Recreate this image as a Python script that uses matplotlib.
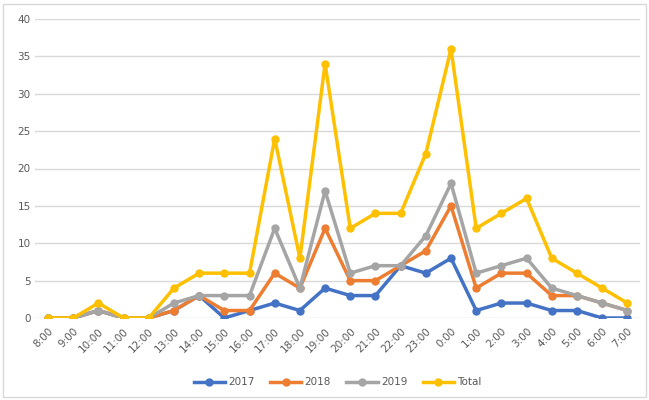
import numpy as np
import matplotlib.pyplot as plt
from matplotlib.patches import Rectangle

# hourly counts, 8:00 through 7:00 the next morning
hours = ['8:00', '9:00', '10:00', '11:00', '12:00', '13:00', '14:00', '15:00',
         '16:00', '17:00', '18:00', '19:00', '20:00', '21:00', '22:00', '23:00',
         '0:00', '1:00', '2:00', '3:00', '4:00', '5:00', '6:00', '7:00']
y2017 = [0, 0, 1, 0, 0, 1, 3, 0, 1, 2, 1, 4, 3, 3, 7, 6, 8, 1, 2, 2, 1, 1, 0, 0]
y2018 = [0, 0, 1, 0, 0, 1, 3, 1, 1, 6, 4, 12, 5, 5, 7, 9, 15, 4, 6, 6, 3, 3, 2, 1]
y2019 = [0, 0, 1, 0, 0, 2, 3, 3, 3, 12, 4, 17, 6, 7, 7, 11, 18, 6, 7, 8, 4, 3, 2, 1]
total = [0, 0, 2, 0, 0, 4, 6, 6, 6, 24, 8, 34, 12, 14, 14, 22, 36, 12, 14, 16, 8, 6, 4, 2]

series = [('2017', y2017, '#4472C4'),
          ('2018', y2018, '#ED7D31'),
          ('2019', y2019, '#A5A5A5'),
          ('Total', total, '#FFC000')]

txt = '#595959'
fig = plt.figure(figsize=(6.49, 4.0), dpi=100)
fig.patches.append(Rectangle((0.004, 0.008), 0.991, 0.982, transform=fig.transFigure,
                             fill=False, edgecolor='#D9D9D9', linewidth=1))
ax = fig.add_axes([0.0546, 0.205, 0.9314, 0.7475])

x = np.arange(len(hours))
for name, vals, col in series:
    ax.plot(x, vals, color=col, linewidth=2.5, marker='o', markersize=5, label=name)

ax.set_xlim(-0.5, len(hours) - 0.5)
ax.set_ylim(0, 40)
ax.set_yticks(range(0, 41, 5))
ax.set_xticks(x)
ax.set_xticklabels(hours, rotation=45, ha='right', rotation_mode='anchor')
ax.tick_params(length=0, labelsize=7.5, colors=txt)
ax.tick_params(axis='x', pad=6)
ax.grid(axis='y', color='#D9D9D9', linewidth=1)
ax.set_axisbelow(True)
for s in ax.spines.values():
    s.set_visible(False)

ax.legend(loc='center', bbox_to_anchor=(0.5, -0.215), ncol=4, frameon=False,
          fontsize=7.5, labelcolor=txt, handlelength=3, columnspacing=1.5,
          handletextpad=0.3)

plt.savefig('out.png', dpi=100)
